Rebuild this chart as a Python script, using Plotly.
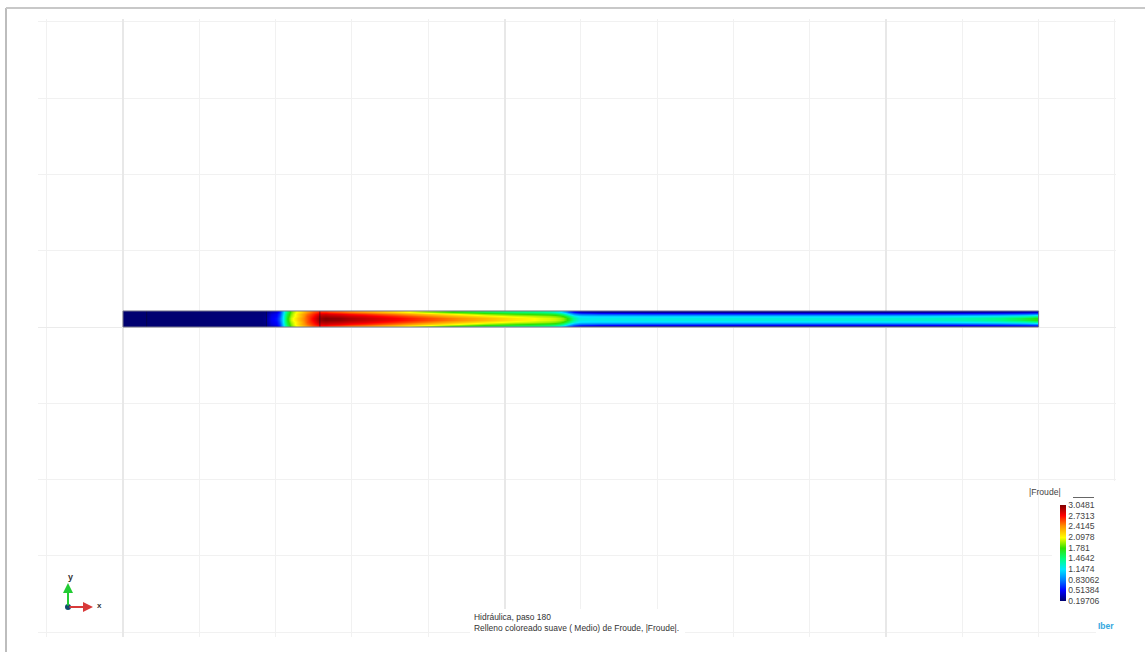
import plotly.graph_objects as go

# Cell edges along the channel (model units)
station_edges = [0, 1.82, 1.90, 1.98, 2.04, 2.08, 2.12, 2.18, 2.23, 2.29, 2.37, 2.45, 2.53, 2.60, 2.71,
                 2.98, 3.37, 3.76, 4.15, 4.55, 4.94, 5.33, 5.60, 5.73, 5.81, 5.87, 5.94, 6.02, 6.25,
                 7.56, 8.87, 10.18, 10.97, 11.49, 11.76, 11.91, 12.0]
# Froude number at four depths across half of the channel, wall to centre
froude_wall = [.20, .22, .35, .42, .70, 1.1, 1.5, 1.85, 2.05, 2.2, 2.4, 2.55, 2.65, 2.65, 2.55, 2.4, 2.2, 1.95,
               1.75, 1.6, 1.5, 1.45, 1.3, 1.05, .75, .55, .42, .35, .28, .27, .27, .29, .32, .35, .38, .40]
froude_near = [.20, .24, .42, .50, .75, 1.15, 1.6, 1.9, 2.1, 2.3, 2.5, 2.65, 2.8, 2.85, 2.78, 2.65, 2.48, 2.28,
               2.1, 1.92, 1.8, 1.72, 1.65, 1.45, 1.15, .92, .80, .76, .70, .68, .68, .70, .74, .78, .82, .88]
froude_inner = [.20, .25, .45, .52, .80, 1.2, 1.65, 1.95, 2.1, 2.3, 2.55, 2.7, 2.9, 2.95, 2.9, 2.8, 2.65, 2.48,
                2.3, 2.15, 2.02, 1.95, 1.88, 1.75, 1.5, 1.25, 1.12, 1.08, 1.06, 1.07, 1.07, 1.1, 1.16, 1.24, 1.3, 1.38]
froude_core = [.20, .26, .47, .55, .85, 1.2, 1.7, 2.0, 2.15, 2.35, 2.55, 2.75, 2.95, 3.04, 3.0, 2.88, 2.75, 2.6,
               2.45, 2.3, 2.15, 2.05, 2.0, 1.9, 1.7, 1.4, 1.22, 1.18, 1.2, 1.22, 1.22, 1.27, 1.36, 1.5, 1.62, 1.72]
channel_width = [0, .02625, .0525, .07875, .105, .13125, .1575, .18375, .21]
section_marks = [.31, 1.88, 2.58]

legend_values = [3.0481, 2.7313, 2.4145, 2.0978, 1.781, 1.4642, 1.1474, 0.83062, 0.51384, 0.19706]
legend_labels = ["3.0481", "2.7313", "2.4145", "2.0978", "1.781", "1.4642", "1.1474", "0.83062", "0.51384", "0.19706"]
jet_scale = [[0, "#000070"], [.11, "#0000ff"], [.22, "#0080ff"], [.33, "#00e8ff"], [.44, "#00ff80"],
             [.55, "#30e000"], [.66, "#ffff00"], [.78, "#ff9000"], [.89, "#ff0000"], [1, "#800000"]]
caption = "Hidráulica, paso 180<br>Relleno coloreado suave ( Medio) de Froude, |Froude|."

W, H = 1145, 652
L, R, T, B = 38, 1116, 19, 637
px = lambda v: (v - L) / (R - L)
py = lambda v: (B - v) / (B - T)

z = [froude_wall, froude_near, froude_inner, froude_core, froude_core, froude_inner, froude_near, froude_wall]

fig = go.Figure()
fig.add_trace(go.Heatmap(
    x=station_edges, y=channel_width, z=z, zsmooth="best", zmin=legend_values[-1], zmax=legend_values[0],
    colorscale=jet_scale, hoverinfo="skip",
    colorbar=dict(
        thickness=6, thicknessmode="pixels", len=96, lenmode="pixels",
        x=px(1060), xanchor="left", y=py(601), yanchor="bottom", xpad=0, ypad=0,
        outlinewidth=0, borderwidth=0,
        tickmode="array", tickvals=legend_values, ticktext=legend_labels, ticks="",
        tickfont=dict(family="Liberation Sans", size=8.6, color="#444444"),
    ),
))
for s in section_marks:
    fig.add_trace(go.Scatter(x=[s, s], y=[channel_width[0], channel_width[-1]], mode="lines",
                             line=dict(color="rgba(10,10,40,0.55)", width=1), hoverinfo="skip", showlegend=False))

grid = dict(showticklabels=False, ticks="", zeroline=False, showline=False,
            gridcolor="#e8e8e8", gridwidth=1.5, tick0=0, dtick=5,
            minor=dict(dtick=1, tick0=0, showgrid=True, gridcolor="#f1f1f1", gridwidth=1, ticks=""))
fig.update_layout(
    width=W, height=H, showlegend=False, plot_bgcolor="white", paper_bgcolor="white",
    margin=dict(l=L, r=W - R, t=T, b=H - B, pad=0),
    xaxis=dict(range=[(L - 123) / 76.3, (R - 123) / 76.3], **grid),
    yaxis=dict(range=[(327 - B) / 76.3, (327 - T) / 76.3], showgrid=True,
               **{**grid, "gridcolor": "#ebebeb", "gridwidth": 1}),
)

def mask(x0, y0, x1, y1):
    fig.add_shape(type="rect", xref="paper", yref="paper", x0=px(x0), x1=px(x1), y0=py(y0), y1=py(y1),
                  fillcolor="white", line=dict(width=0))

# blank panels behind the legend, the caption and the logo
mask(1052, 481, 1120, 615)
mask(1096, 615, 1120, 640)
mask(470, 609, 685, 640)

# frame of the page and of the channel
fig.add_shape(type="line", xref="paper", yref="paper", x0=px(6), x1=px(6), y0=py(8), y1=py(652),
              line=dict(color="#bdbdbd", width=2))
fig.add_shape(type="line", xref="paper", yref="paper", x0=px(6), x1=px(1145), y0=py(8), y1=py(8),
              line=dict(color="#c8c8c8", width=2))
fig.add_shape(type="rect", x0=station_edges[0], x1=station_edges[-1], y0=channel_width[0], y1=channel_width[-1],
              line=dict(color="#77778c", width=1))
fig.add_shape(type="line", xref="paper", yref="paper", x0=px(1073), x1=px(1094), y0=py(497.5), y1=py(497.5),
              line=dict(color="#666666", width=1))

def label(x, y, text, size=9, color="#444444", anchor="left", family="Liberation Sans"):
    fig.add_annotation(xref="paper", yref="paper", x=px(x), y=py(y), text=text, showarrow=False, xanchor=anchor,
                       yanchor="middle", align="left", borderpad=0,
                       font=dict(family=family, size=size, color=color))

def arrow(x0, y0, x1, y1, color):
    fig.add_annotation(xref="paper", yref="paper", axref="pixel", ayref="pixel", x=px(x1), y=py(y1),
                       ax=x0 - x1, ay=y0 - y1,
                       text="", showarrow=True, arrowhead=2, arrowsize=1, arrowwidth=2, arrowcolor=color)

label(1028, 492, "|Froude|", size=8.6)
label(473, 622.5, caption, size=8.45, color="#333333")
label(1097, 626, "<b>Iber</b>", size=8.5, color="#35a8e0")
arrow(68, 607, 68, 583, "#22cc33")
arrow(68, 607, 93, 607, "#d83a3a")
fig.add_shape(type="circle", xref="paper", yref="paper", x0=px(65), x1=px(71), y0=py(610), y1=py(604),
              fillcolor="#124a6e", line=dict(width=0))
label(70, 577, "<b>y</b>", size=9, anchor="center", color="#333333")
label(99, 605, "<b>x</b>", size=8, anchor="center", color="#333333")

fig.write_html("out.html", config={"displayModeBar": False},
               post_script="document.body.style.margin='0';document.body.style.overflow='hidden';")
